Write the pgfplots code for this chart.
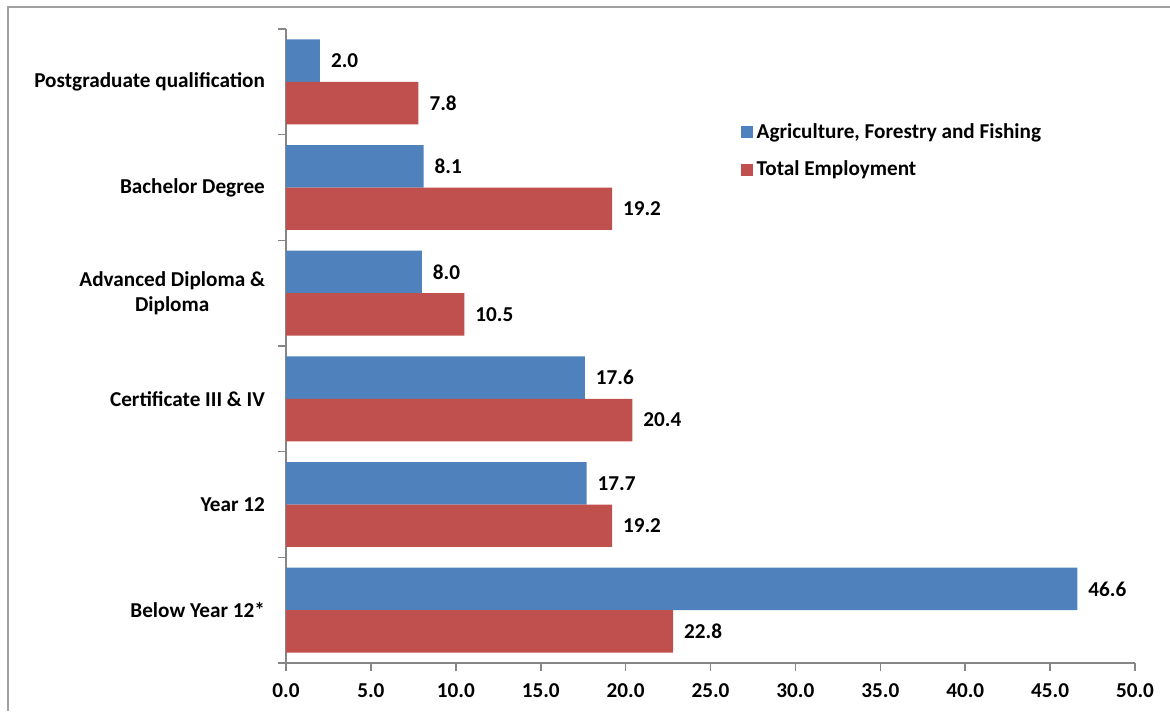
\documentclass[border=0pt]{standalone}
\usepackage{pgfplots}
\pgfplotsset{compat=1.18}
\usepackage{fontspec}
\setmainfont{Carlito}
\definecolor{agri}{HTML}{4F81BD}
\definecolor{total}{HTML}{C0504D}
\definecolor{axisgray}{HTML}{868686}
\definecolor{framegray}{HTML}{A0A0A0}

\begin{document}
\begin{tikzpicture}[font=\bfseries\fontsize{10.6}{12.7}\selectfont]
\useasboundingbox (0,0) rectangle (585pt,355.5pt);
% outer chart frame
\draw[framegray, line width=0.6pt] (4pt,0) -- (4pt,352pt) -- (585pt,352pt);
\begin{axis}[
  at={(143pt,24pt)}, anchor=south west,
  scale only axis, width=424.5pt, height=317pt,
  xbar, bar width=0.402,
  xmin=0, xmax=50, ymin=-0.5, ymax=5.5,
  clip=false,
  axis x line*=bottom, axis y line*=left,
  axis line style={axisgray, line width=0.8pt},
  tick align=outside,
  major tick length=4pt,
  tick style={axisgray, line width=0.8pt},
  xtick={0,5,...,50},
  x tick label style={yshift=-3pt, /pgf/number format/fixed, /pgf/number format/fixed zerofill,
    /pgf/number format/precision=1, /pgf/number format/assume math mode=true},
  ytick={-0.5,0.5,...,5.5}, yticklabels={,,,,,,,},
  extra y ticks={0,1,2,3,4,5},
  extra y tick labels={Below Year 12*, Year 12, Certificate III \& IV, {Advanced Diploma \&\\Diploma}, Bachelor Degree, Postgraduate qualification},
  extra y tick style={major tick length=0pt, yticklabel style={align=center, xshift=-7pt}},
  nodes near coords={\pgfmathprintnumber[fixed, fixed zerofill, precision=1, assume math mode=true]{\pgfplotspointmeta}},
  every node near coord/.append style={anchor=west, xshift=2pt, black},
  legend style={at={(axis cs:26.4,4.345)}, anchor=west, draw=none, fill=none,
    row sep=6pt, font=\bfseries\fontsize{10.6}{12.7}\selectfont},
  legend cell align=left,
  legend image code/.code={\fill[#1] (0pt,-3pt) rectangle (6pt,3pt);},
]
\addplot[fill=agri, draw=none, bar shift=0.201]
  coordinates {(46.6,0) (17.7,1) (17.6,2) (8.0,3) (8.1,4) (2.0,5)};
\addplot[fill=total, draw=none, bar shift=-0.201]
  coordinates {(22.8,0) (19.2,1) (20.4,2) (10.5,3) (19.2,4) (7.8,5)};
\legend{{Agriculture, Forestry and Fishing}, Total Employment}
\end{axis}
\end{tikzpicture}
\end{document}
